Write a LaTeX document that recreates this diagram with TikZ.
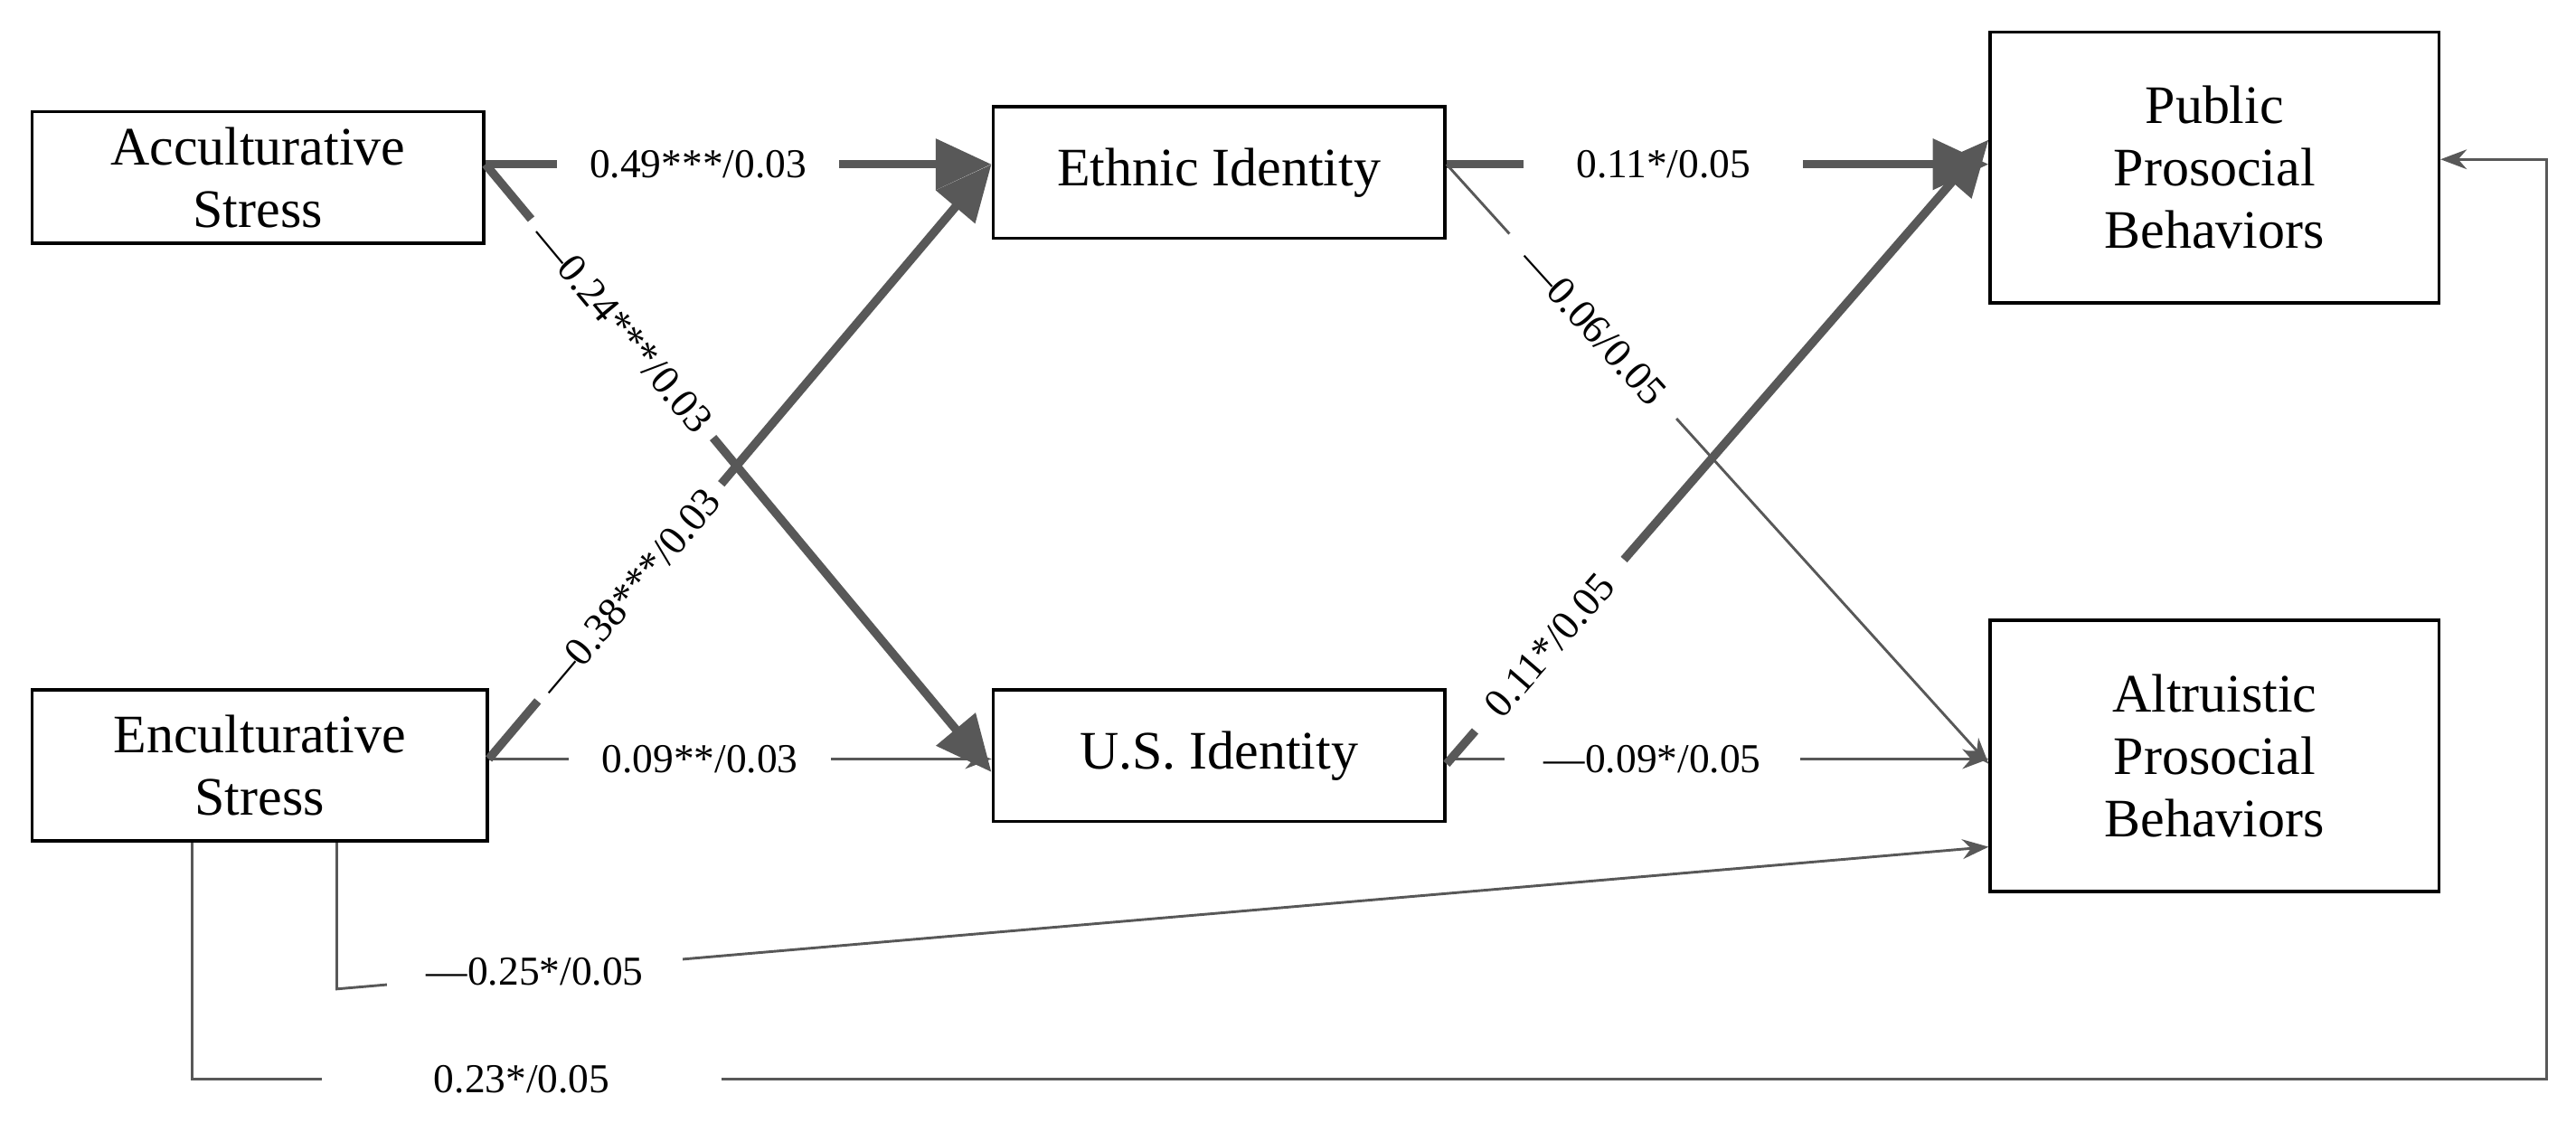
\documentclass[tikz,border=0pt]{standalone}
\usepackage{fontspec}
\setmainfont{Liberation Serif}
\usetikzlibrary{arrows.meta,calc}
\definecolor{ln}{RGB}{88,88,88}
\begin{document}
\begin{tikzpicture}[x=0.5pt,y=-0.5pt,
 box/.style={draw,line width=1pt,align=center,font=\fontsize{16.5}{19}\selectfont,inner sep=0},
 thick/.style={ln,line width=2.6pt,-{Triangle[length=17pt,width=15pt]}},
 thin/.style={ln,line width=0.8pt,-{Stealth[length=8pt,width=6pt]}},
 lab/.style={fill=white,text=black,font=\fontsize{12.5}{14}\selectfont,inner xsep=6pt,inner ysep=1pt}]
\useasboundingbox (0,0) rectangle (1568,689);
\node[box,minimum width=137.5pt,minimum height=40pt] (acc) at (157,108) {Acculturative\\Stress};
\node[box,minimum width=138.5pt,minimum height=46pt] (enc) at (158,466) {Enculturative\\Stress};
\node[box,minimum width=137.5pt,minimum height=40pt] (eth) at (742,105) {Ethnic Identity};
\node[box,minimum width=137.5pt,minimum height=40pt] (us) at (742,460) {U.S. Identity};
\node[box,minimum width=136.5pt,minimum height=82.5pt] (pub) at (1348,102) {Public\\Prosocial\\Behaviors};
\node[box,minimum width=136.5pt,minimum height=82.5pt] (alt) at (1348,460) {Altruistic\\Prosocial\\Behaviors};
\coordinate (a1) at ($(acc.east)+(0,-8)$);
\coordinate (e1) at ($(enc.east)+(0,-4)$);
\draw[thick] (a1) -- node[lab,pos=.42,inner xsep=10pt]{0.49***/0.03} ($(eth.west)+(0,-5)$);
\draw[thick] (e1) -- node[lab,pos=.28,sloped,inner xsep=4pt]{---0.38***/0.03} ($(eth.west)+(0,-5)$);
\draw[thick] (a1) -- node[lab,pos=.27,sloped,inner xsep=4pt]{---0.24***/0.03} ($(us.west)+(0,10)$);
\draw[thin] (e1) -- node[lab,pos=.42,inner xsep=10pt]{0.09**/0.03} ($(us.west)+(0,2)$);
\draw[thick] ($(eth.east)+(0,-5)$) -- node[lab,pos=.4,inner xsep=16pt]{0.11*/0.05} ($(pub.west)+(0,-2)$);
\draw[thick] ($(us.east)+(0,5)$) -- node[lab,pos=.19,sloped,inner xsep=8pt]{0.11*/0.05} ($(pub.west)+(0,-17)$);
\draw[thin] ($(eth.east)+(0,-5)$) -- node[lab,pos=.27,sloped,inner xsep=8pt]{---0.06/0.05} ($(alt.west)+(0,5)$);
\draw[thin] ($(us.east)+(0,2)$) -- node[lab,pos=.38,inner xsep=12pt]{---0.09*/0.05} ($(alt.west)+(0,2)$);
\coordinate (b1) at ($(enc.south)+(47,0)$);
\coordinate (b2) at ($(enc.south)+(-41,0)$);
\draw[thin] (b1) -- (205,602) -- node[lab,pos=.12,inner xsep=12pt]{---0.25*/0.05} ($(alt.south west)+(0,-28)$);
\draw[thin] (b2) -- (117,657) -- node[lab,pos=.14,inner xsep=34pt]{0.23*/0.05} (1550,657) -- (1550,97) -- ($(pub.east)+(0,-5)$);
\end{tikzpicture}
\end{document}
